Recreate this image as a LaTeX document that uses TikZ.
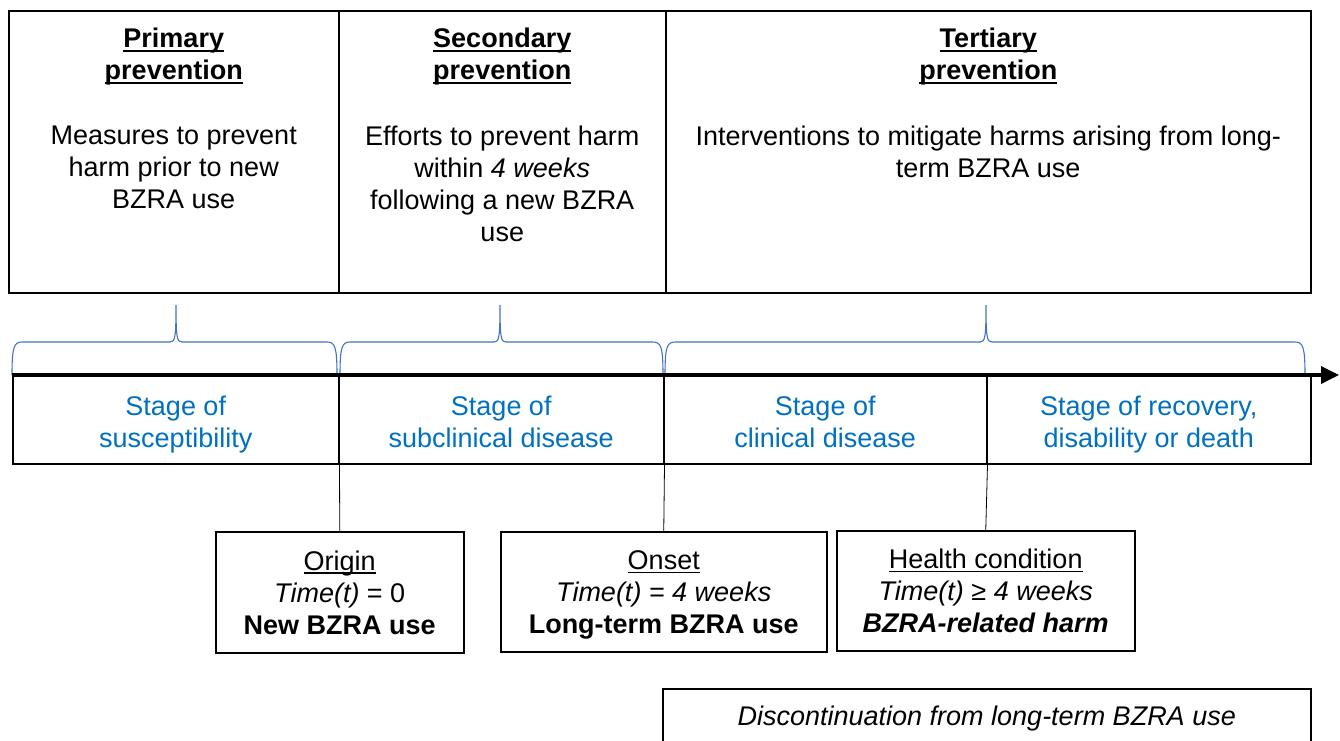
\documentclass[tikz,border=0pt]{standalone}
\usepackage{fontspec}
\setmainfont{Liberation Sans}
\usetikzlibrary{arrows.meta,positioning}

\definecolor{stageblue}{HTML}{0070C0}
\definecolor{braceblue}{HTML}{4472C4}

% underline lying across the descenders
\newcommand{\ulin}[1]{\leavevmode\setbox0=\hbox{#1}\rlap{\rule[-3.8pt]{\wd0}{1.6pt}}\box0}
% fixed first-line height and last-line depth, so all boxes centre alike
\newcommand{\tstrut}[1]{\rule{0pt}{#1}}
\newcommand{\bstrut}{\vphantom{gy}}

\begin{document}
\begin{tikzpicture}[x=1pt,y=-1pt,
  every node/.style={font=\fontsize{27}{32}\selectfont},
  topbox/.style={draw,line width=1.5pt,anchor=north west,minimum height=282pt,inner sep=0},
  head/.style={align=center,inner sep=0,font=\fontsize{27}{32}\selectfont\bfseries},
  body/.style={align=center,inner sep=0},
  stagebox/.style={draw,line width=1.5pt,anchor=north west,minimum height=88pt,
    align=center,text=stageblue,inner sep=0},
  eventbox/.style={draw,line width=1.5pt,anchor=north west,align=center,inner sep=0},
  brace/.style={braceblue,line width=1.1pt},
  axis/.style={line width=3.5pt,-{Triangle[length=18pt,width=17pt]}},
  link/.style={line width=0.8pt}]

\useasboundingbox (0,0) rectangle (1340,740);

% prevention levels
\node[topbox,minimum width=330pt] (prim) at (8,10) {};
\node[topbox,minimum width=327pt] (sec) at (338,10) {};
\node[topbox,minimum width=645pt] (tert) at (665,10) {};

\node[head,below=18pt of prim.north] (primhead) {\ulin{Primary}\\\ulin{prevention}};
\node[head,below=18pt of sec.north] (sechead) {\ulin{Secondary}\\\ulin{prevention}};
\node[head,below=18pt of tert.north] (terthead) {\ulin{Tertiary}\\\ulin{prevention}};

\node[body,below=40pt of primhead] (primtext) {Measures to prevent\\harm prior to new\\BZRA use};
\node[body,below=40pt of sechead] (sectext) {Efforts to prevent harm\\within \textit{4 weeks}\\following a new BZRA\\use};
\node[body,below=40pt of terthead] (terttext) {Interventions to mitigate harms arising from long-\\term BZRA use};

% braces
\foreach \a/\m/\b in {12/176/337, 340/500/663, 665/986/1305}
  \draw[brace] (\a,375) .. controls (\a,347) and (\a+2,342) .. (\a+10,342)
    -- (\m-6,342) .. controls (\m-1,342) and (\m,338) .. (\m,305)
    .. controls (\m,338) and (\m+1,342) .. (\m+6,342)
    -- (\b-10,342) .. controls (\b-2,342) and (\b,347) .. (\b,375);

% stages
\node[stagebox,minimum width=326pt] (susc) at (12,375)
  {\tstrut{28.2pt}Stage of\\susceptibility\bstrut};
\node[stagebox,minimum width=325pt] (subc) at (338,375)
  {\tstrut{28.2pt}Stage of\\subclinical disease\bstrut};
\node[stagebox,minimum width=323pt] (clin) at (663,375)
  {\tstrut{28.2pt}Stage of\\clinical disease\bstrut};
\node[stagebox,minimum width=324pt] (recov) at (986,375)
  {\tstrut{28.2pt}Stage of recovery,\\disability or death\bstrut};

\coordinate (axisend) at (1339,375);
\draw[axis] (susc.north west) -- (axisend);

% events
\node[eventbox,minimum width=248pt,minimum height=121pt] (origin) at (215,531)
  {\tstrut{25.3pt}\ulin{Origin}\\\textit{Time(t)} = 0\\\textbf{New BZRA use}\bstrut};
\node[eventbox,minimum width=326pt,minimum height=120pt] (onset) at (500,531)
  {\tstrut{25.3pt}\ulin{Onset}\\\textit{Time(t) = 4 weeks}\\\textbf{Long-term BZRA use}\bstrut};
\node[eventbox,minimum width=298pt,minimum height=120pt] (health) at (836,530)
  {\tstrut{25.3pt}\ulin{Health condition}\\\textit{Time(t) ≥ 4 weeks}\\\textbf{\textit{BZRA-related harm}}\bstrut};

\draw[link] (susc.south east) -- (origin.north);
\draw[link] (subc.south east) -- (onset.north);
\draw[link] (clin.south east) -- (health.north);

\node[eventbox,minimum width=648pt,minimum height=60pt] (disc) at (662,688)
  {\textit{Discontinuation from long-term BZRA use}};

\end{tikzpicture}
\end{document}
